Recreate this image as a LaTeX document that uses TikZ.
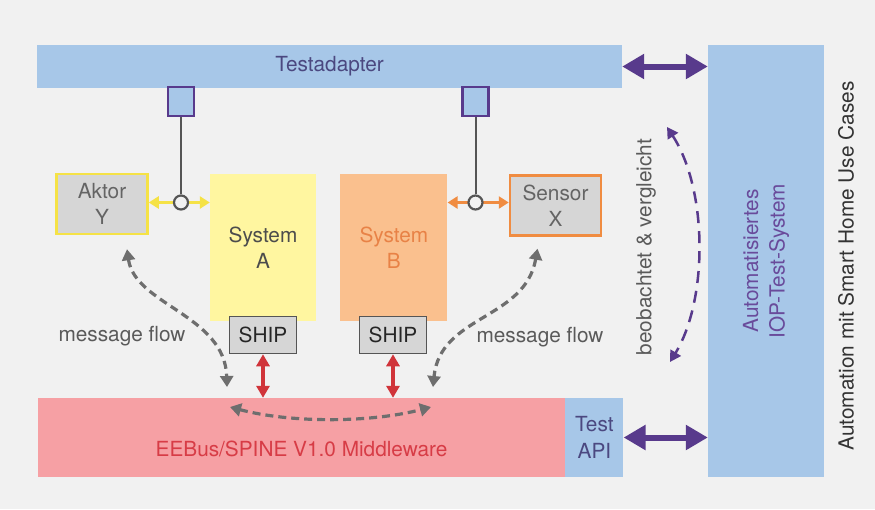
\documentclass[tikz,border=0pt]{standalone}
\usepackage{fontspec}
\setmainfont{TeX Gyre Heros}
\usetikzlibrary{arrows.meta,positioning,calc}
\tikzset{
  >=Stealth,
  every node/.append style={font=\fontsize{20.8}{26.5}\selectfont},
}
\tikzset{
  bar/.style={rectangle, draw=none, fill=testblue, inner sep=0pt},
  plug/.style={rectangle, draw=plugpurple, line width=2.2pt, fill=testblue, minimum width=26pt, minimum height=29pt, inner sep=0pt},
  device/.style={rectangle, fill=devgray, line width=2.5pt, minimum width=91pt, minimum height=60pt, align=center, text=devtext, inner sep=0pt},
  sysbox/.style={rectangle, draw=none, minimum width=106pt, minimum height=147pt, align=center, inner sep=0pt},
  shipbox/.style={rectangle, draw=linegray, line width=1.5pt, fill=devgray, minimum width=67pt, minimum height=37pt, inner sep=0pt, text=black!85},
  tap/.style={circle, draw=linegray, line width=2.2pt, fill=bgray, minimum size=14pt, inner sep=0pt},
  stem/.style={draw=linegray, line width=2pt},
  link/.style={<->, line width=3pt, >={Triangle[length=10pt,width=12pt]}},
  redlink/.style={<->, line width=3.5pt, draw=arrowred, >={Triangle[length=12pt,width=13pt]}},
  flow/.style={<->, dash pattern=on 8pt off 5pt, line width=3.2pt, draw=flowgray, >={Triangle[length=11pt,width=13pt]}},
  obsflow/.style={<->, dash pattern=on 12pt off 8pt, line width=2.5pt, draw=plugpurple, >={Triangle[length=11pt,width=12pt]}},
  bigarrow/.style={<->, line width=6pt, draw=plugpurple, >={Triangle[length=22pt,width=24pt]}},
  note/.style={text=notegray}
}

\begin{document}
\begin{tikzpicture}[x=1pt, y=-1pt]

% --- Colours ---
\definecolor{bgray}{RGB}{241,241,241}
\definecolor{testblue}{RGB}{167,199,232}
\definecolor{plugpurple}{RGB}{88,58,140}
\definecolor{devgray}{RGB}{214,214,214}
\definecolor{devtext}{RGB}{100,100,100}
\definecolor{linegray}{RGB}{85,85,85}
\definecolor{sysyellow}{RGB}{255,246,160}
\definecolor{sysorange}{RGB}{250,192,142}
\definecolor{aktyellow}{RGB}{245,226,70}
\definecolor{sensorange}{RGB}{240,140,65}
\definecolor{orangetext}{RGB}{232,130,70}
\definecolor{arrowred}{RGB}{208,52,58}
\definecolor{mwpink}{RGB}{246,160,164}
\definecolor{mwtext}{RGB}{215,60,70}
\definecolor{flowgray}{RGB}{110,110,110}
\definecolor{notegray}{RGB}{90,90,90}
\definecolor{textblue}{RGB}{75,72,128}
\definecolor{textpurple}{RGB}{105,75,155}

% --- Canvas ---
\fill[bgray] (0,0) rectangle (875,509);
\useasboundingbox (0,0) rectangle (875,509);

% --- Test bars ---
\node[bar, minimum width=585pt, minimum height=43pt, text=textblue] (testadapter) at (329.5,66.5) {Testadapter};
\node[bar, minimum width=527pt, minimum height=79pt, fill=mwpink] (mw) at (301.5,437.5) {};
\node[text=mwtext] (mwlabel) at ([yshift=-11pt]mw.center) {EEBus/SPINE V1.0 Middleware};
\node[bar, minimum width=58pt, minimum height=79pt, right=0pt of mw, align=center, text=textblue] (testapi) {Test\\API};
\node[bar, minimum width=116pt, minimum height=432pt] (iop) at (766,261) {};
\node[rotate=90, align=center, text=textpurple] (ioplabel) at (iop.center) {Automatisiertes\\IOP-Test-System};

% --- Systems under test ---
\node[sysbox, fill=sysyellow, text=black!70] (sysA) at (263,247.5) {System\\A};
\node[sysbox, fill=sysorange, text=orangetext, right=24pt of sysA, minimum width=107pt] (sysB) {System\\B};
\node[shipbox] (shipA) at (263,335) {SHIP};
\node[shipbox] (shipB) at (393,335) {SHIP};

% --- Devices ---
\node[device, draw=aktyellow] (aktor) at (102,204) {Aktor\\Y};
\node[device, draw=sensorange] (sensor) at (555.5,205.5) {Sensor\\X};

% --- Probes of the test adapter ---
\node[plug] (plugA) at (181,101.5) {};
\node[plug] (plugB) at (475.5,101.5) {};
\coordinate (jA) at (181,202.5);
\coordinate (jB) at (475.5,202.5);

\draw[link, draw=aktyellow] (aktor.east |- jA) -- (sysA.west |- jA);
\draw[link, draw=sensorange] (sysB.east |- jB) -- (sensor.west |- jB);
\node[tap] (tapA) at (jA) {};
\node[tap] (tapB) at (jB) {};
\draw[stem] (plugA.south) -- (tapA.north);
\draw[stem] (plugB.south) -- (tapB.north);

% --- SHIP to middleware ---
\draw[redlink] (shipA.south) -- (shipA.south |- mw.north);
\draw[redlink] (shipB.south) -- (shipB.south |- mw.north);

% --- Test system links ---
\draw[bigarrow] (testadapter.east) -- (iop.west |- testadapter.east);
\draw[bigarrow] (testapi.east) -- (iop.west |- testapi.east);

% --- Message flows ---
\coordinate (mfA) at (227,387);
\coordinate (mfB) at (433,387);
\coordinate (mwA) at (230,407);
\coordinate (mwB) at (431,407);
\draw[flow] ([xshift=25pt,yshift=-14pt]aktor.south) .. controls (135,305) and (225,315) .. (mfA);
\draw[flow] ([xshift=-18pt,yshift=-12pt]sensor.south) .. controls (525,320) and (440,315) .. (mfB);
\draw[flow] (mwA) .. controls (290,423) and (370,423) .. (mwB);

\coordinate (obsTop) at (667,127);
\coordinate (obsBot) at (670,362);
\draw[obsflow] (obsTop) .. controls (708,190) and (708,300) .. (obsBot);

% --- Labels ---
\node[note] (mflowA) at (122,336) {message flow};
\node[note] (mflowB) at (540,337) {message flow};
\node[note, rotate=90] (obslabel) at (646,247) {beobachtet \& vergleicht};
\node[text=black!80, rotate=90] (usecases) at (846,266) {Automation mit Smart Home Use Cases};

\end{tikzpicture}
\end{document}
